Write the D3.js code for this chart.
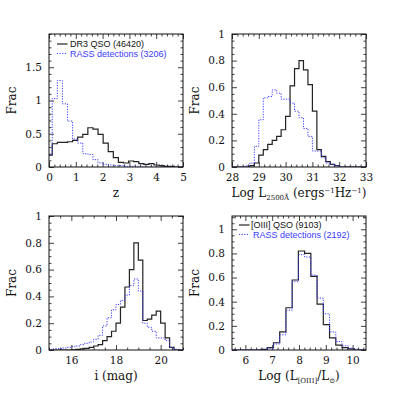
<!DOCTYPE html>
<html>
<head>
<meta charset="utf-8">
<script src="https://cdnjs.cloudflare.com/ajax/libs/d3/7.8.5/d3.min.js"></script>
<style>
body {margin:0; background:#fff;}
svg {display:block;}
.tick text {font-family:"DejaVu Serif",serif; font-size:10.5px; fill:#111;}
.tick line {stroke:#111; stroke-width:0.8;}
.label {font-family:"DejaVu Serif",serif; font-size:12px; fill:#111;}
.legend {font-family:"Liberation Sans",Arial,sans-serif; font-size:9px;}
</style>
</head>
<body>
<svg id="chart"></svg>
<script>
// redshift histogram (bins of 0.19 starting at -0.07)
var zStart = -0.07, zWidth = 0.19;
var zDR3 = [0.18,0.35,0.37,0.37,0.38,0.40,0.45,0.49,0.59,0.57,0.49,0.36,0.23,0.14,0.07,0.06,0.09,0.08,0.05,0.04,0.05,0.03,0.02,0.01,0.01,0,0];
var zRASS = [0.18,1.03,1.30,0.95,0.69,0.42,0.36,0.20,0.19,0.11,0.06,0.04,0.03,0.02,0.02,0.01,0.01,0.01,0,0,0,0,0,0,0,0,0];

// log L2500 histogram (bins of 1/6 from 28)
var lumStart = 28, lumWidth = 1/6;
var lumDR3 = [0,0,0,0,0.01,0.03,0.09,0.13,0.17,0.20,0.23,0.28,0.38,0.61,0.74,0.80,0.73,0.62,0.42,0.13,0.08,0.04,0.02,0.01,0,0,0,0,0,0];
var lumRASS = [0,0,0,0.01,0.03,0.155,0.355,0.52,0.53,0.58,0.555,0.51,0.51,0.48,0.42,0.37,0.29,0.23,0.12,0.12,0.07,0.03,0.02,0.01,0,0,0,0,0,0];

// i magnitude histogram (bins of 0.2 from 15)
var iStart = 15, iWidth = 0.2;
var iDR3 = [0,0,0,0,0,0.002,0.004,0.008,0.012,0.02,0.03,0.04,0.07,0.10,0.14,0.20,0.32,0.47,0.60,0.80,0.67,0.22,0.23,0.26,0.29,0.20,0.09,0.02,0,0];
var iRASS = [0.005,0.01,0.01,0.015,0.02,0.025,0.03,0.04,0.05,0.06,0.08,0.11,0.18,0.24,0.30,0.34,0.37,0.41,0.48,0.53,0.44,0.20,0.17,0.14,0.09,0.09,0.07,0.02,0.005,0];

// log L[OIII] histogram
var oStart = 5.42, oWidth = 0.2325;
var oDR3 = [0,0,0,0,0,0.005,0.02,0.06,0.15,0.35,0.58,0.82,0.80,0.61,0.38,0.21,0.10,0.04,0.02,0.01,0,0];
var oRASS = [0,0,0,0,0,0.003,0.015,0.05,0.126,0.33,0.565,0.79,0.77,0.62,0.43,0.30,0.15,0.07,0.035,0.015,0.005,0];

var zTicks = [0,1,2,3,4,5];
var lumTicks = [28,29,30,31,32,33];
var iTicks = [16,18,20];
var oTicks = [6,7,8,9,10];
var frac1Ticks = [0,0.5,1,1.5];
var fracTicks = [0,0.2,0.4,0.6,0.8,1];

var svg = d3.select("#chart")
    .attr("width",399)
    .attr("height",399);

var minorTicks = function(domain,step,major)
{
    return d3.range(Math.ceil(domain[0]/step-1e-6)*step, domain[1]+1e-6, step)
        .filter(function(t)
        {
            return !major.some(function(m){return Math.abs(m-t)<1e-6});
        })
}

var stepPoints = function(start,width,values)
{
    var pts = [[start,0]];
    values.forEach(function(v,i)
    {
        pts.push([start+i*width, v]);
    })
    var end = start+values.length*width;
    pts.push([end, values[values.length-1]]);
    pts.push([end, 0]);
    return pts;
}

var fmt = function(d){return d3.format("~g")(d)};

var drawPanel = function(p)
{
    var box = p.box;
    var xScale = d3.scaleLinear()
        .domain(p.xDomain)
        .range([box.left, box.left+box.width]);
    var yScale = d3.scaleLinear()
        .domain(p.yDomain)
        .range([box.top+box.height, box.top]);

    var g = svg.append("g");
    var bottom = box.top+box.height, right = box.left+box.width;
    var xMinor = minorTicks(p.xDomain,p.xStep,p.xTicks);
    var yMinor = minorTicks(p.yDomain,p.yStep,p.yTicks);

    // major + minor ticks on all four sides, pointing inwards
    g.append("g").attr("transform","translate(0,"+bottom+")")
        .call(d3.axisBottom(xScale).tickValues(p.xTicks).tickSizeInner(-5).tickSizeOuter(0).tickPadding(7).tickFormat(fmt));
    g.append("g").attr("transform","translate(0,"+bottom+")")
        .call(d3.axisBottom(xScale).tickValues(xMinor).tickSizeInner(-2.5).tickSizeOuter(0).tickFormat(""));
    g.append("g").attr("transform","translate(0,"+box.top+")")
        .call(d3.axisTop(xScale).tickValues(p.xTicks).tickSizeInner(-5).tickSizeOuter(0).tickFormat(""));
    g.append("g").attr("transform","translate(0,"+box.top+")")
        .call(d3.axisTop(xScale).tickValues(xMinor).tickSizeInner(-2.5).tickSizeOuter(0).tickFormat(""));
    g.append("g").attr("transform","translate("+box.left+",0)")
        .call(d3.axisLeft(yScale).tickValues(p.yTicks).tickSizeInner(-5).tickSizeOuter(0).tickPadding(7).tickFormat(fmt));
    g.append("g").attr("transform","translate("+box.left+",0)")
        .call(d3.axisLeft(yScale).tickValues(yMinor).tickSizeInner(-2.5).tickSizeOuter(0).tickFormat(""));
    g.append("g").attr("transform","translate("+right+",0)")
        .call(d3.axisRight(yScale).tickValues(p.yTicks).tickSizeInner(-5).tickSizeOuter(0).tickFormat(""));
    g.append("g").attr("transform","translate("+right+",0)")
        .call(d3.axisRight(yScale).tickValues(yMinor).tickSizeInner(-2.5).tickSizeOuter(0).tickFormat(""));
    g.selectAll(".domain").remove();

    var clipId = "clip"+p.id;
    svg.append("clipPath").attr("id",clipId)
        .append("rect")
        .attr("x",box.left).attr("y",box.top)
        .attr("width",box.width).attr("height",box.height);

    var line = d3.line()
        .x(function(d){return xScale(d[0])})
        .y(function(d){return yScale(d[1])})
        .curve(d3.curveStepAfter);

    var plot = g.append("g").attr("clip-path","url(#"+clipId+")");
    plot.append("path")
        .datum(stepPoints(p.start,p.width,p.solid))
        .attr("fill","none")
        .attr("stroke","#222")
        .attr("stroke-width",1.2)
        .attr("d",line);
    plot.append("path")
        .datum(stepPoints(p.start,p.width,p.dotted))
        .attr("fill","none")
        .attr("stroke","#3a3aff")
        .attr("stroke-width",1)
        .attr("stroke-dasharray","1.2,1.4")
        .attr("d",line);

    g.append("rect")
        .attr("x",box.left).attr("y",box.top)
        .attr("width",box.width).attr("height",box.height)
        .attr("fill","none")
        .attr("stroke","#111")
        .attr("stroke-width",1);

    g.append("text")
        .classed("label",true)
        .attr("text-anchor","middle")
        .attr("transform","translate("+(box.left-33)+","+(box.top+box.height/2)+") rotate(-90)")
        .text("Frac");

    var xl = g.append("text")
        .classed("label",true)
        .attr("text-anchor","middle")
        .attr("x",box.left+box.width/2)
        .attr("y",bottom+30);
    p.xLabel.forEach(function(part)
    {
        var t = xl.append("tspan").text(part.t);
        if(part.dy) {t.attr("dy",part.dy)}
        if(part.small) {t.style("font-size","7px")}
    })

    if(p.legend)
    {
        var lg = g.append("g").classed("legend",true);
        p.legend.forEach(function(item,i)
        {
            var ly = p.legendY+i*9.4;
            lg.append("line")
                .attr("x1",p.legendX).attr("x2",p.legendX+10.5)
                .attr("y1",ly).attr("y2",ly)
                .attr("stroke",item.color)
                .attr("stroke-width",item.dash ? 1 : 1.1)
                .attr("stroke-dasharray",item.dash ? "1.2,1.4" : null);
            lg.append("text")
                .attr("x",p.legendX+item.gap)
                .attr("y",ly+3.2)
                .attr("fill",item.color)
                .text(item.text);
        })
    }
}

drawPanel({
    id:1, box:{left:49, top:34, width:134, height:133},
    xDomain:[0,5], yDomain:[0,2], xTicks:zTicks, yTicks:frac1Ticks, xStep:0.2, yStep:0.1,
    start:zStart, width:zWidth, solid:zDR3, dotted:zRASS,
    xLabel:[{t:"z"}],
    legendX:57, legendY:44,
    legend:[{text:"DR3 QSO (46420)", color:"#111", gap:13},
            {text:"RASS detections (3206)", color:"#3a3aff", dash:true, gap:13}]
});

drawPanel({
    id:2, box:{left:232, top:34, width:134, height:133},
    xDomain:[28,33], yDomain:[0,1], xTicks:lumTicks, yTicks:fracTicks, xStep:0.2, yStep:0.05,
    start:lumStart, width:lumWidth, solid:lumDR3, dotted:lumRASS,
    xLabel:[{t:"Log L"},{t:"2500Å",small:true,dy:"3"},{t:" (ergs",dy:"-3"},{t:"−1",small:true,dy:"-4"},
            {t:"Hz",dy:"4"},{t:"−1",small:true,dy:"-4"},{t:")",dy:"4"}]
});

drawPanel({
    id:3, box:{left:49, top:216, width:134, height:134},
    xDomain:[15,21], yDomain:[0,1], xTicks:iTicks, yTicks:fracTicks, xStep:0.5, yStep:0.05,
    start:iStart, width:iWidth, solid:iDR3, dotted:iRASS,
    xLabel:[{t:"i (mag)"}]
});

drawPanel({
    id:4, box:{left:232, top:216, width:134, height:134},
    xDomain:[5.5,10.5], yDomain:[0,1.11], xTicks:oTicks, yTicks:fracTicks, xStep:0.2, yStep:0.05,
    start:oStart, width:oWidth, solid:oDR3, dotted:oRASS,
    xLabel:[{t:"Log  (L"},{t:"[OIII]",small:true,dy:"3"},{t:"/L",dy:"-3"},{t:"⊙",small:true,dy:"3"},{t:")",dy:"-3"}],
    legendX:239, legendY:225,
    legend:[{text:"[OIII] QSO (9103)", color:"#111", gap:12},
            {text:"RASS detections (2192)", color:"#3a3aff", dash:true, gap:14}]
});
</script>
</body>
</html>
